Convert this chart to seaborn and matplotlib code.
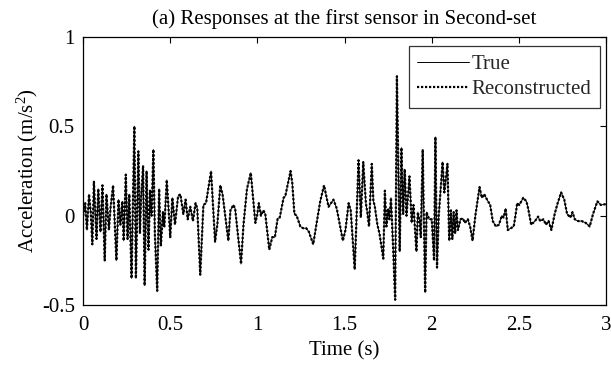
import numpy as np
import pandas as pd
import matplotlib
matplotlib.use("Agg")
import matplotlib.pyplot as plt
import seaborn as sns

# Sampled acceleration record at the first sensor (time in s, acceleration in m/s^2)
time_s = [
    0.000, 0.012, 0.022, 0.034, 0.044, 0.053, 0.062, 0.077, 0.087, 0.100,
    0.111, 0.124, 0.134, 0.148, 0.158, 0.172, 0.191, 0.203, 0.214, 0.225,
    0.233, 0.245, 0.255, 0.265, 0.278, 0.294, 0.303, 0.317, 0.326, 0.333,
    0.344, 0.353, 0.364, 0.375, 0.384, 0.393, 0.403, 0.412, 0.425, 0.436,
    0.446, 0.458, 0.466, 0.480, 0.500, 0.512, 0.527, 0.545, 0.558, 0.575,
    0.588, 0.600, 0.615, 0.630, 0.645, 0.655, 0.672, 0.690, 0.705, 0.734,
    0.757, 0.770, 0.787, 0.800, 0.833, 0.845, 0.862, 0.872, 0.906, 0.920,
    0.940, 0.962, 0.988, 0.998, 1.008, 1.020, 1.034, 1.045, 1.068, 1.085,
    1.100, 1.116, 1.128, 1.150, 1.160, 1.190, 1.200, 1.212, 1.225, 1.246,
    1.262, 1.280, 1.295, 1.320, 1.338, 1.360, 1.382, 1.408, 1.436, 1.455,
    1.490, 1.505, 1.523, 1.535, 1.558, 1.580, 1.593, 1.607, 1.622, 1.630,
    1.640, 1.656, 1.665, 1.672, 1.688, 1.700, 1.722, 1.731, 1.740, 1.750,
    1.757, 1.766, 1.778, 1.790, 1.800, 1.816, 1.826, 1.836, 1.845, 1.855,
    1.872, 1.885, 1.895, 1.912, 1.920, 1.930, 1.937, 1.948, 1.962, 1.970,
    1.985, 2.000, 2.013, 2.021, 2.030, 2.040, 2.062, 2.072, 2.090, 2.100,
    2.110, 2.118, 2.126, 2.134, 2.142, 2.150, 2.165, 2.178, 2.190, 2.207,
    2.220, 2.234, 2.250, 2.274, 2.287, 2.301, 2.317, 2.335, 2.350, 2.368,
    2.385, 2.402, 2.412, 2.424, 2.436, 2.453, 2.470, 2.480, 2.490, 2.502,
    2.525, 2.543, 2.553, 2.570, 2.592, 2.610, 2.622, 2.640, 2.655, 2.670,
    2.686, 2.705, 2.722, 2.742, 2.760, 2.776, 2.795, 2.807, 2.820, 2.839,
    2.860, 2.883, 2.906, 2.925, 2.950, 2.970, 3.000,
]
accel_true = [
    0.00, 0.07, -0.08, 0.12, 0.02, -0.16, 0.19, -0.13, 0.15, -0.09,
    0.17, -0.25, 0.12, -0.08, 0.05, 0.17, -0.25, 0.09, -0.05, 0.08,
    -0.14, 0.23, -0.13, 0.12, -0.35, 0.50, -0.35, 0.36, -0.10, 0.10,
    0.28, -0.39, 0.25, -0.19, 0.14, 0.00, 0.37, -0.11, -0.42, 0.15,
    -0.17, 0.02, -0.06, 0.20, -0.12, 0.10, -0.05, 0.11, 0.12, 0.01,
    0.09, -0.02, 0.05, -0.03, 0.07, 0.04, -0.33, 0.06, 0.07, 0.25,
    -0.145, -0.05, 0.17, 0.12, -0.14, 0.03, 0.06, 0.04, -0.27, -0.05,
    0.15, 0.24, -0.04, 0.00, 0.07, 0.00, 0.03, 0.01, -0.19, -0.12,
    -0.12, -0.015, -0.01, 0.10, 0.11, 0.25, 0.18, 0.01, 0.00, -0.06,
    -0.07, -0.07, -0.09, -0.16, -0.05, 0.08, 0.17, 0.05, 0.09, 0.04,
    -0.14, -0.08, 0.07, 0.03, -0.30, 0.31, -0.01, 0.30, 0.07, 0.02,
    -0.06, 0.29, 0.08, 0.06, -0.05, -0.10, -0.24, 0.14, -0.06, 0.04,
    -0.02, 0.10, -0.17, -0.47, 0.78, -0.20, 0.38, 0.01, 0.26, 0.00,
    0.22, -0.04, 0.06, -0.20, 0.02, -0.03, -0.12, 0.37, -0.43, 0.02,
    -0.02, -0.02, -0.25, 0.44, -0.29, 0.00, 0.30, 0.13, 0.29, -0.14,
    0.03, -0.13, 0.02, -0.10, 0.03, -0.08, -0.02, -0.015, -0.04, -0.02,
    -0.06, -0.14, 0.00, 0.16, 0.10, 0.12, 0.09, 0.06, -0.03, -0.06,
    -0.05, 0.00, -0.01, 0.04, -0.08, -0.07, -0.06, 0.00, 0.07, 0.06,
    0.10, 0.08, 0.04, -0.05, -0.03, -0.005, -0.03, -0.02, -0.05, -0.03,
    -0.08, 0.01, 0.07, 0.13, 0.09, 0.01, -0.01, 0.02, -0.02, -0.03,
    -0.03, -0.04, -0.06, 0.01, 0.08, 0.06, 0.065,
]
# The reconstruction follows the measured record point for point
accel_recon = list(accel_true)

x_ticks = [0, 0.5, 1, 1.5, 2, 2.5, 3]
x_tick_labels = ["0", "0.5", "1", "1.5", "2", "2.5", "3"]
y_ticks = [-0.5, 0, 0.5, 1]
y_tick_labels = ["-0.5", "0", "0.5", "1"]

sns.set_theme(style="white")
plt.rcParams["font.family"] = ["Liberation Serif", "DejaVu Serif"]
plt.rcParams["mathtext.fontset"] = "custom"
plt.rcParams["mathtext.rm"] = "Liberation Serif"
plt.rcParams["mathtext.it"] = "Liberation Serif:italic"

FS = 15

df = pd.DataFrame({"t": time_s, "true": accel_true, "recon": accel_recon})

fig = plt.figure(figsize=(6.11, 3.65), dpi=100)
ax = fig.add_axes([0.136, 0.164, 0.856, 0.735])

sns.lineplot(data=df, x="t", y="true", ax=ax, color="black", linewidth=0.7,
             estimator=None, sort=False, label="True")
sns.lineplot(data=df, x="t", y="recon", ax=ax, color="black", linewidth=1.6,
             linestyle=(0, (1, 0.8)), estimator=None, sort=False,
             label="Reconstructed")

ax.set_xlim(0, 3)
ax.set_ylim(-0.5, 1)
ax.set_xticks(x_ticks)
ax.set_xticklabels(x_tick_labels)
ax.set_yticks(y_ticks)
ax.set_yticklabels(y_tick_labels)
ax.tick_params(direction="in", top=True, right=True, length=4, width=0.8,
               colors="black", labelsize=FS, pad=6)
ax.tick_params(axis="x", pad=8)
for s in ax.spines.values():
    s.set_color("black")
    s.set_linewidth(0.9)

ax.set_xlabel("Time (s)", fontsize=FS, color="black", labelpad=4)
ax.set_ylabel("Acceleration (m/s$^2$)", fontsize=FS, color="black", labelpad=1.5)
ax.set_title("(a) Responses at the first sensor in Second-set", fontsize=FS,
             color="black", pad=9)

leg = ax.legend(loc="upper right", bbox_to_anchor=(0.988, 0.966),
                fontsize=FS, frameon=True, fancybox=False,
                handlelength=2.45, handletextpad=0.15, borderpad=0.4,
                labelspacing=0.28, borderaxespad=0.0)
leg.get_frame().set_edgecolor("black")
leg.get_frame().set_linewidth(0.9)

fig.savefig("out.png", dpi=100)
